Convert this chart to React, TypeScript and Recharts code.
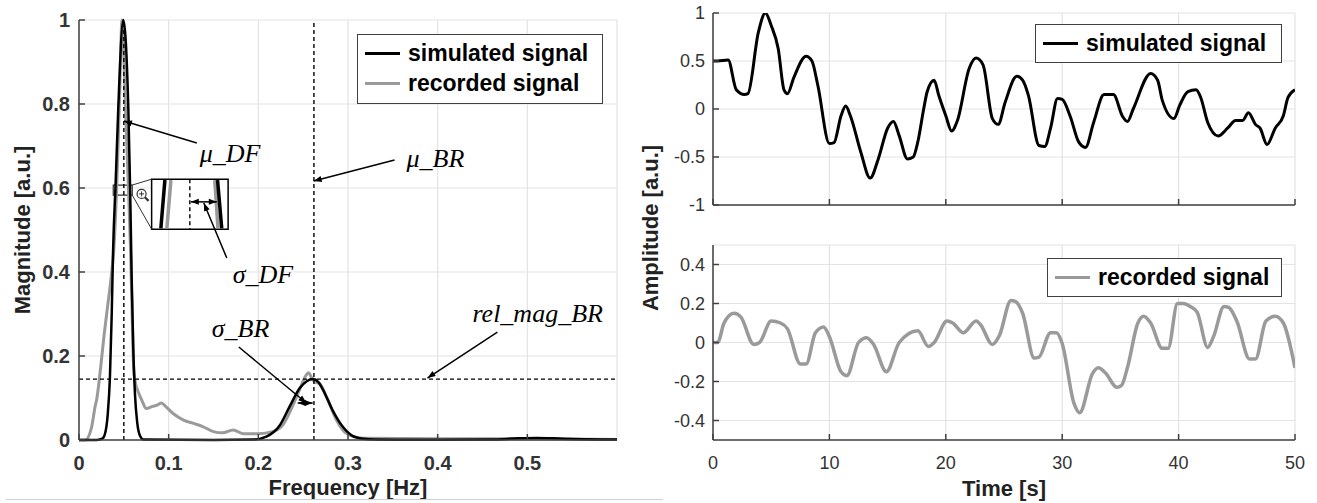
import React from 'react';
import {
  LineChart,
  Line,
  XAxis,
  YAxis,
  CartesianGrid,
  ReferenceLine,
  ReferenceArea,
  ReferenceDot,
  Legend,
  Label,
} from 'recharts';

const SANS = '"Liberation Sans", Arial, Helvetica, sans-serif';
const SERIF = '"Liberation Serif", "Times New Roman", serif';

const SIM_COLOR = '#000000';
const REC_COLOR = '#9a9a9a';
const GRID = '#e3e3e3';
const AXIS = '#404040';

const seriesNames = ['simulated signal', 'recorded signal'];

// spectrum (left panel)
const simFreq = [0, 0.02, 0.026, 0.029, 0.032, 0.0345, 0.0365, 0.038, 0.041, 0.0438, 0.0494, 0.055, 0.057, 0.0587, 0.0605, 0.0624, 0.065, 0.068, 0.072, 0.15, 0.195, 0.209, 0.224, 0.235, 0.246, 0.254, 0.261, 0.267, 0.272, 0.283, 0.294, 0.305, 0.317, 0.33, 0.4, 0.46, 0.49, 0.51, 0.54, 0.6];
const simMag = [0, 0, 0.003, 0.015, 0.06, 0.15, 0.3, 0.45, 0.62, 0.79, 1.0, 0.79, 0.6, 0.39, 0.22, 0.11, 0.04, 0.01, 0.001, 0, 0.001, 0.008, 0.035, 0.08, 0.123, 0.14, 0.145, 0.138, 0.12, 0.07, 0.032, 0.01, 0.003, 0.001, 0.0005, 0.001, 0.004, 0.005, 0.003, 0.001];

const recFreq = [0, 0.007, 0.014, 0.018, 0.02, 0.024, 0.028, 0.032, 0.036, 0.039, 0.042, 0.045, 0.048, 0.052, 0.0555, 0.0575, 0.0595, 0.061, 0.063, 0.066, 0.07, 0.075, 0.082, 0.087, 0.092, 0.0965, 0.105, 0.116, 0.127, 0.138, 0.15, 0.16, 0.172, 0.183, 0.2, 0.216, 0.227, 0.238, 0.246, 0.2535, 0.256, 0.259, 0.263, 0.268, 0.276, 0.287, 0.294, 0.306, 0.32, 0.4, 0.5, 0.56, 0.6];
const recMag = [0, 0, 0.03, 0.08, 0.1, 0.17, 0.25, 0.32, 0.39, 0.46, 0.6, 0.8, 1.0, 0.78, 0.58, 0.45, 0.28, 0.17, 0.135, 0.115, 0.095, 0.075, 0.08, 0.083, 0.088, 0.08, 0.063, 0.048, 0.04, 0.032, 0.02, 0.017, 0.024, 0.015, 0.015, 0.02, 0.035, 0.08, 0.12, 0.155, 0.16, 0.15, 0.138, 0.135, 0.103, 0.048, 0.024, 0.008, 0.004, 0.003, 0.003, 0.002, 0.001];

const freqTicks = [0, 0.1, 0.2, 0.3, 0.4, 0.5];
const magTicks = [0, 0.2, 0.4, 0.6, 0.8, 1];

// feature markers
const muDF = 0.05;
const muBR = 0.262;
const relMagBR = 0.145;

// time signals (right panels)
const simTime = [0, 0.4, 1.3, 2.0, 2.7, 3.0, 3.9, 4.5, 5.0, 5.6, 6.1, 6.4, 6.95, 8.0, 8.5, 9.0, 10.0, 10.4, 11.0, 11.4, 11.8, 12.7, 13.5, 14.2, 15.0, 15.5, 16.0, 16.7, 17.2, 17.6, 18.1, 18.4, 19.0, 19.4, 20.0, 20.5, 21.0, 22.0, 22.6, 23.2, 24.0, 24.5, 25.1, 26.1, 26.6, 27.1, 28.0, 28.5, 29.0, 29.6, 30.0, 30.7, 31.4, 32.0, 32.7, 33.6, 34.4, 35.2, 35.6, 36.1, 37.6, 38.2, 38.6, 39.6, 40.1, 40.8, 41.5, 41.9, 42.5, 43.4, 44.2, 44.9, 45.5, 46.0, 46.6, 47.0, 47.6, 48.3, 49.0, 49.4, 50.0];
const simAmp = [0.5, 0.5, 0.51, 0.2, 0.15, 0.16, 0.8, 1.0, 0.87, 0.63, 0.2, 0.16, 0.33, 0.55, 0.5, 0.25, -0.36, -0.35, -0.07, 0.03, -0.07, -0.45, -0.72, -0.52, -0.2, -0.13, -0.28, -0.52, -0.5, -0.34, 0.0, 0.18, 0.3, 0.14, -0.07, -0.23, -0.12, 0.42, 0.53, 0.46, -0.1, -0.16, 0.07, 0.34, 0.3, 0.14, -0.38, -0.39, -0.2, 0.11, 0.1, -0.08, -0.34, -0.4, -0.14, 0.15, 0.15, -0.08, -0.13, 0.0, 0.37, 0.3, 0.09, -0.1, 0.04, 0.18, 0.2, 0.12, -0.14, -0.28, -0.2, -0.12, -0.12, -0.04, -0.16, -0.2, -0.37, -0.2, -0.07, 0.12, 0.2];

const recTime = [0, 0.4, 0.95, 1.8, 2.4, 3.5, 4.0, 5.0, 5.8, 6.4, 7.5, 8.0, 8.8, 9.5, 10.0, 11.0, 11.5, 12.5, 13.2, 13.8, 14.9, 16.0, 17.6, 18.5, 19.0, 20.1, 20.6, 21.5, 22.6, 23.0, 24.0, 24.6, 25.6, 26.0, 26.6, 27.6, 28.0, 29.0, 29.5, 30.0, 31.0, 31.5, 32.6, 33.1, 33.7, 34.7, 35.1, 35.6, 36.5, 37.0, 37.6, 38.6, 39.1, 39.9, 40.4, 41.0, 41.6, 42.5, 43.0, 43.9, 44.3, 45.0, 46.1, 46.6, 47.5, 48.3, 49.0, 50.0];
const recAmp = [0, 0, 0.1, 0.15, 0.13, -0.01, 0.0, 0.11, 0.1, 0.07, -0.11, -0.11, 0.05, 0.08, 0.03, -0.15, -0.17, 0.0, 0.025, -0.01, -0.15, 0.0, 0.06, -0.02, 0.0, 0.11, 0.1, 0.05, 0.11, 0.09, -0.01, 0.035, 0.215, 0.21, 0.15, -0.08, -0.075, 0.05, 0.05, -0.005, -0.31, -0.36, -0.16, -0.13, -0.155, -0.23, -0.22, -0.13, 0.1, 0.135, 0.1, -0.03, -0.03, 0.2, 0.2, 0.185, 0.155, -0.025, 0.03, 0.185, 0.18, 0.11, -0.085, -0.085, 0.11, 0.135, 0.1, -0.13];

const timeTicks = [0, 10, 20, 30, 40, 50];
const simAmpTicks = [-1, -0.5, 0, 0.5, 1];
const recAmpTicks = [-0.4, -0.2, 0, 0.2, 0.4];

const simSpectrum = simFreq.map((f, i) => ({ f, v: simMag[i] }));
const recSpectrum = recFreq.map((f, i) => ({ f, v: recMag[i] }));
const simSignal = simTime.map((t, i) => ({ t, v: simAmp[i] }));
const recSignal = recTime.map((t, i) => ({ t, v: recAmp[i] }));

// annotation texts, anchored at (freq, magnitude)
const annotationText = [
  { f: 0.1347, v: 0.662, text: 'μ_DF' },
  { f: 0.3653, v: 0.65, text: 'μ_BR' },
  { f: 0.1715, v: 0.374, text: 'σ_DF' },
  { f: 0.1481, v: 0.245, text: 'σ_BR' },
  { f: 0.4388, v: 0.281, text: 'rel_mag_BR' },
];

// annotation arrows [from, to]
const pointerArrows = [
  [{ x: 0.1314, y: 0.707 }, { x: 0.0501, y: 0.7595 }],
  [{ x: 0.3519, y: 0.6667 }, { x: 0.2617, y: 0.6167 }],
  [{ x: 0.1648, y: 0.4333 }, { x: 0.1392, y: 0.5643 }],
  [{ x: 0.1782, y: 0.2214 }, { x: 0.2536, y: 0.0881 }],
  [{ x: 0.4666, y: 0.2571 }, { x: 0.3886, y: 0.1476 }],
];
const widthArrows = [
  [{ x: 0.1247, y: 0.567 }, { x: 0.1537, y: 0.567 }],
  [{ x: 0.2439, y: 0.088 }, { x: 0.2606, y: 0.088 }],
];

// zoom inset
const zoomSource = { x1: 0.0382, x2: 0.0594, y1: 0.583, y2: 0.607 };
const zoomBox = { x1: 0.081, x2: 0.1663, y1: 0.502, y2: 0.621 };
const insetStrokes = [
  { seg: [{ x: 0.1025, y: 0.619 }, { x: 0.098, y: 0.504 }], color: REC_COLOR },
  { seg: [{ x: 0.0958, y: 0.619 }, { x: 0.0913, y: 0.504 }], color: SIM_COLOR },
  { seg: [{ x: 0.1514, y: 0.619 }, { x: 0.155, y: 0.504 }], color: REC_COLOR },
  { seg: [{ x: 0.1545, y: 0.619 }, { x: 0.1592, y: 0.504 }], color: SIM_COLOR },
];
const insetLinks = [
  [{ x: 0.0594, y: 0.607 }, { x: 0.081, y: 0.621 }],
  [{ x: 0.0594, y: 0.583 }, { x: 0.081, y: 0.502 }],
];

const head = (x1: number, y1: number, x2: number, y2: number) => {
  const a = Math.atan2(y2 - y1, x2 - x1);
  const len = 8;
  const w = 3;
  const bx = x2 - len * Math.cos(a);
  const by = y2 - len * Math.sin(a);
  const pts = [
    [x2, y2],
    [bx + w * Math.sin(a), by - w * Math.cos(a)],
    [bx - w * Math.sin(a), by + w * Math.cos(a)],
  ];
  return <polygon points={pts.map((p) => p.join(',')).join(' ')} fill="#000" />;
};

const arrowShape = (both: boolean) => (props: any) => {
  const { x1, y1, x2, y2 } = props;
  if (x1 == null || x2 == null) return <g />;
  return (
    <g>
      <line x1={x1} y1={y1} x2={x2} y2={y2} stroke="#000" strokeWidth={1.5} />
      {head(x1, y1, x2, y2)}
      {both && head(x2, y2, x1, y1)}
    </g>
  );
};

const textShape = (text: string) => (props: any) => (
  <text
    x={props.cx}
    y={props.cy}
    fontFamily={SERIF}
    fontStyle="italic"
    fontSize={26}
    fill="#000"
  >
    {text}
  </text>
);

const magnifier = (props: any) => {
  const { cx, cy } = props;
  return (
    <g stroke="#333" fill="none">
      <circle cx={cx} cy={cy} r={4.5} strokeWidth={1.2} />
      <line x1={cx - 2.5} y1={cy} x2={cx + 2.5} y2={cy} strokeWidth={1} />
      <line x1={cx} y1={cy - 2.5} x2={cx} y2={cy + 2.5} strokeWidth={1} />
      <line x1={cx + 3.3} y1={cy + 3.3} x2={cx + 7} y2={cy + 7} strokeWidth={2.2} />
    </g>
  );
};

const LegendBox = ({ payload, width, height, pad }: any) => {
  const items = [...(payload || [])].sort(
    (a: any, b: any) => seriesNames.indexOf(a.value) - seriesNames.indexOf(b.value)
  );
  return (
    <div
      style={{
        width,
        height,
        boxSizing: 'border-box',
        border: `1.5px solid ${AXIS}`,
        background: '#fff',
        padding: `${pad}px 0 0 7px`,
      }}
    >
      {items.map((it: any) => (
        <div key={it.value} style={{ display: 'flex', alignItems: 'center', height: 30 }}>
          <span
            style={{
              display: 'inline-block',
              width: 35,
              height: 0,
              borderTop: `3px solid ${it.color}`,
              marginRight: 8,
            }}
          />
          <span
            style={{
              fontFamily: SANS,
              fontWeight: 'bold',
              fontSize: 23,
              color: '#000',
              whiteSpace: 'nowrap',
            }}
          >
            {it.value}
          </span>
        </div>
      ))}
    </div>
  );
};

const boldTick = { fontFamily: SANS, fontSize: 20, fontWeight: 'bold', fill: '#333' };
const plainTick = { fontFamily: SANS, fontSize: 18, fill: '#333' };
const axisTitle = { fontFamily: SANS, fontSize: 22, fontWeight: 'bold', fill: '#222' };
const blank = () => '';

const SpectrumChart = () => (
  <LineChart width={640} height={503} margin={{ top: 20, right: 23, bottom: 0, left: 0 }}>
    <CartesianGrid stroke={GRID} strokeWidth={1.2} />
    <XAxis
      dataKey="f"
      type="number"
      domain={[0, 0.6]}
      ticks={freqTicks}
      allowDataOverflow
      height={63}
      stroke={AXIS}
      strokeWidth={1.5}
      tickSize={-6}
      tickMargin={22}
      tick={boldTick}
    >
      <Label value="Frequency [Hz]" position="insideBottom" offset={8} style={axisTitle} />
    </XAxis>
    <XAxis
      xAxisId="top"
      orientation="top"
      type="number"
      domain={[0, 0.6]}
      ticks={freqTicks}
      height={0}
      stroke={AXIS}
      strokeWidth={1.5}
      tickSize={-6}
      tickFormatter={blank}
    />
    <YAxis
      type="number"
      domain={[0, 1]}
      ticks={magTicks}
      width={79}
      stroke={AXIS}
      strokeWidth={1.5}
      tickSize={-6}
      tickMargin={15}
      tick={boldTick}
    >
      <Label
        value="Magnitude [a.u.]"
        angle={-90}
        position="insideLeft"
        offset={22}
        style={{ ...axisTitle, textAnchor: 'middle' }}
      />
    </YAxis>
    <YAxis
      yAxisId="right"
      orientation="right"
      type="number"
      domain={[0, 1]}
      ticks={magTicks}
      width={0}
      stroke={AXIS}
      strokeWidth={1.5}
      tickSize={-6}
      tickFormatter={blank}
    />
    <Line
      data={recSpectrum}
      dataKey="v"
      name={seriesNames[1]}
      type="monotone"
      stroke={REC_COLOR}
      strokeWidth={3}
      dot={false}
      isAnimationActive={false}
    />
    <Line
      data={simSpectrum}
      dataKey="v"
      name={seriesNames[0]}
      type="monotone"
      stroke={SIM_COLOR}
      strokeWidth={2.5}
      dot={false}
      isAnimationActive={false}
    />
    <ReferenceLine x={muDF} stroke="#000" strokeWidth={1.4} strokeDasharray="4 3" />
    <ReferenceLine x={muBR} stroke="#000" strokeWidth={1.4} strokeDasharray="4 3" />
    <ReferenceLine y={relMagBR} stroke="#000" strokeWidth={1.4} strokeDasharray="4 3" />

    <ReferenceArea {...zoomSource} fill="none" stroke="#333" strokeWidth={1.2} />
    {insetLinks.map((seg, i) => (
      <ReferenceLine key={`link-${i}`} segment={seg} stroke="#333" strokeWidth={1} />
    ))}
    <ReferenceArea {...zoomBox} fill="#fff" fillOpacity={1} stroke="#000" strokeWidth={1.5} />
    {insetStrokes.map((s, i) => (
      <ReferenceLine key={`inset-${i}`} segment={s.seg} stroke={s.color} strokeWidth={3.5} />
    ))}
    <ReferenceLine
      segment={[{ x: 0.1236, y: zoomBox.y2 }, { x: 0.1236, y: zoomBox.y1 }]}
      stroke="#000"
      strokeWidth={1.4}
      strokeDasharray="4 3"
    />
    <ReferenceDot x={0.0698} y={0.586} r={0} shape={magnifier} />

    {pointerArrows.map((seg, i) => (
      <ReferenceLine key={`arrow-${i}`} segment={seg} shape={arrowShape(false)} />
    ))}
    {widthArrows.map((seg, i) => (
      <ReferenceLine key={`width-${i}`} segment={seg} shape={arrowShape(true)} />
    ))}
    {annotationText.map((a) => (
      <ReferenceDot key={a.text} x={a.f} y={a.v} r={0} shape={textShape(a.text)} />
    ))}
    <Legend
      layout="horizontal"
      verticalAlign="middle"
      align="center"
      wrapperStyle={{ left: 357, top: 34, width: 246 }}
      content={(p: any) => <LegendBox payload={p.payload} width={246} height={70} pad={3} />}
    />
  </LineChart>
);

const SignalChart = ({
  data,
  name,
  color,
  width,
  ticks,
  domain,
  height,
  top,
  showTime,
  legendLeft,
  legendTop,
  legendWidth,
}: any) => (
  <LineChart
    width={677}
    height={height}
    margin={{ top, right: 22, bottom: 0, left: 0 }}
  >
    <CartesianGrid stroke={GRID} strokeWidth={1.2} />
    <XAxis
      dataKey="t"
      type="number"
      domain={[0, 50]}
      ticks={timeTicks}
      allowDataOverflow
      height={showTime ? 63 : 30}
      stroke={AXIS}
      strokeWidth={1.5}
      tickSize={-6}
      tickMargin={22}
      tick={plainTick}
      tickFormatter={showTime ? undefined : blank}
    >
      {showTime && (
        <Label value="Time [s]" position="insideBottom" offset={7} style={axisTitle} />
      )}
    </XAxis>
    <YAxis
      type="number"
      domain={domain}
      ticks={ticks}
      allowDataOverflow
      width={73}
      stroke={AXIS}
      strokeWidth={1.5}
      tickSize={-6}
      tickMargin={14}
      tick={plainTick}
    />
    <Line
      data={data}
      dataKey="v"
      name={name}
      type="monotone"
      stroke={color}
      strokeWidth={width}
      dot={false}
      isAnimationActive={false}
    />
    <Legend
      layout="horizontal"
      verticalAlign="middle"
      align="center"
      wrapperStyle={{ left: legendLeft, top: legendTop, width: legendWidth }}
      content={(p: any) => (
        <LegendBox payload={p.payload} width={legendWidth} height={39} pad={3} />
      )}
    />
  </LineChart>
);

export default function App() {
  return (
    <div
      style={{
        position: 'absolute',
        left: 0,
        top: 0,
        width: 1317,
        height: 503,
        background: '#fff',
        overflow: 'hidden',
      }}
    >
      <div style={{ position: 'absolute', left: 0, top: 0 }}>
        <SpectrumChart />
      </div>
      <div style={{ position: 'absolute', left: 640, top: 0 }}>
        <SignalChart
          data={simSignal}
          name={seriesNames[0]}
          color={SIM_COLOR}
          width={3}
          ticks={simAmpTicks}
          domain={[-1, 1]}
          height={235}
          top={13}
          showTime={false}
          legendLeft={395}
          legendTop={24}
          legendWidth={247}
        />
      </div>
      <div style={{ position: 'absolute', left: 640, top: 235 }}>
        <SignalChart
          data={recSignal}
          name={seriesNames[1]}
          color={REC_COLOR}
          width={3.5}
          ticks={recAmpTicks}
          domain={[-0.5, 0.5]}
          height={268}
          top={10}
          showTime
          legendLeft={407}
          legendTop={23}
          legendWidth={235}
        />
      </div>
      <div
        style={{
          position: 'absolute',
          left: 651,
          top: 228,
          transform: 'translate(-50%, -50%) rotate(-90deg)',
          fontFamily: SANS,
          fontWeight: 'bold',
          fontSize: 22,
          color: '#222',
          whiteSpace: 'nowrap',
        }}
      >
        Amplitude [a.u.]
      </div>
      <div
        style={{
          position: 'absolute',
          left: 6,
          top: 499,
          width: 657,
          height: 0,
          borderTop: '1.5px solid #cfcfcf',
        }}
      />
    </div>
  );
}
